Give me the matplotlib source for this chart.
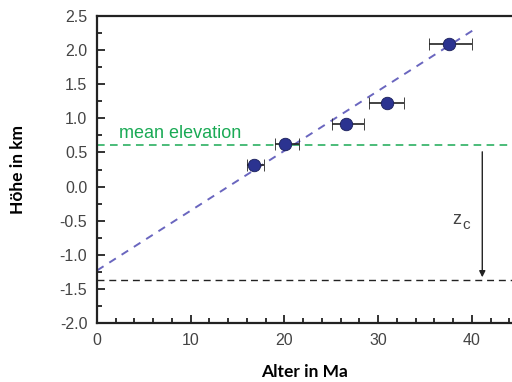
import matplotlib
matplotlib.use('Agg')
import matplotlib.pyplot as plt
from matplotlib.ticker import MultipleLocator

# ages (Ma) with error bars and elevation (km)
age = [16.8, 20.1, 26.6, 30.9, 37.6]
age_lo = [16.0, 19.0, 25.1, 29.0, 35.4]
age_hi = [17.8, 21.5, 28.5, 32.8, 40.0]
height = [0.32, 0.62, 0.92, 1.22, 2.09]

fit_x = [0.0, 40.1]
fit_y = [-1.23, 2.29]

mean_elev = 0.61
comp_level = -1.37
arrow_x = 41.1

fig = plt.figure(figsize=(5.12, 3.82), dpi=100)
ax = fig.add_axes([97/512, 59/382, 1 - 97/512, 307/382])

tick_font = 'Liberation Sans'
label_font = 'Lato'

xerr = [[a - l for a, l in zip(age, age_lo)], [h - a for a, h in zip(age, age_hi)]]

ax.axhline(mean_elev, color='#1aaa55', ls=(0, (5, 3.5)), lw=1.1)
ax.axhline(comp_level, color='#222222', ls=(0, (5, 3.5)), lw=1.0)
ax.plot(fit_x, fit_y, color='#6a66bf', ls=(0, (4, 3.5)), lw=1.4)
ax.errorbar(age, height, xerr=xerr, fmt='o', color='#2b3390', mec='#1a1f5a', mew=0.6,
            ms=9, ecolor='#222222', elinewidth=1.2, capsize=4.5, capthick=1.2, zorder=5)

ax.annotate('', xy=(arrow_x, comp_level), xytext=(arrow_x, 0.55),
            arrowprops=dict(arrowstyle='-|>', color='#222222', lw=1.0, mutation_scale=9))
ax.text(38.4, -0.49, 'z', fontsize=13, color='#444444', family=tick_font, ha='center', va='center')
ax.text(39.4, -0.56, 'c', fontsize=11, color='#444444', family=tick_font, ha='center', va='center')
ax.text(2.4, 0.66, 'mean elevation', color='#1aaa55', fontsize=13, family=tick_font, va='bottom')

ax.set_xlim(0, 44.27)
ax.set_ylim(-2.0, 2.5)
ax.xaxis.set_major_locator(MultipleLocator(10))
ax.xaxis.set_minor_locator(MultipleLocator(2))
ax.yaxis.set_major_locator(MultipleLocator(0.5))
ax.yaxis.set_minor_locator(MultipleLocator(0.25))
ax.tick_params(which='both', direction='in', width=1.3, colors='#222222', labelcolor='#444444',
               labelsize=11.5, top=False, right=False)
ax.tick_params(which='major', length=6, pad=7)
ax.tick_params(which='minor', length=3.5)
for lab in ax.get_xticklabels() + ax.get_yticklabels():
    lab.set_family(tick_font)
ax.set_yticklabels(['%.1f' % v for v in ax.get_yticks()])
for s in ['left', 'bottom', 'top']:
    ax.spines[s].set_linewidth(1.6)
    ax.spines[s].set_color('#222222')
ax.spines['right'].set_visible(False)

ax.set_xlabel('Alter in Ma', fontsize=12.5, fontweight='bold', family=label_font, labelpad=12)
ax.set_ylabel('Höhe in km', fontsize=12.5, fontweight='bold', family=label_font, labelpad=24)

fig.savefig('out.png', dpi=100)
